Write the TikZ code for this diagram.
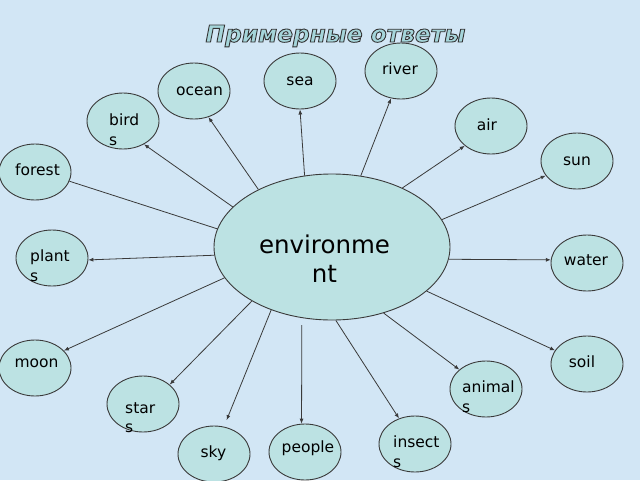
\documentclass[tikz,border=0pt]{standalone}
\usepackage{fontspec}
\setmainfont{DejaVu Sans}
\usetikzlibrary{arrows.meta,shapes.geometric}
\definecolor{bg}{HTML}{D2E6F5}
\definecolor{bubfill}{HTML}{BCE2E3}
\definecolor{edgegray}{HTML}{3A3A3A}
\definecolor{titlefill}{HTML}{A5D5DA}
\newcommand\outlined[1]{\special{pdf:literal direct 2 Tr 0.9 w 0.2 0.2 0.2 RG}#1\special{pdf:literal direct 0 Tr}}
\begin{document}
\begin{tikzpicture}[x=1pt,y=-1pt,
  bubble/.style={ellipse, draw=edgegray, line width=0.9pt, fill=bubfill, minimum width=72pt, minimum height=56pt, inner sep=0pt},
  word/.style={inner sep=0pt, font=\fontsize{15.5}{19}\selectfont, text height=0.547em, text depth=0pt},
  bigword/.style={inner sep=0pt, font=\fontsize{24.5}{29}\selectfont, anchor=base},
  arr/.style={draw=edgegray, line width=0.8pt, -{Latex[length=5pt,width=4pt]}},
  ln/.style={draw=edgegray, line width=0.8pt},
  titletext/.style={inner sep=0pt, anchor=base, font=\bfseries\itshape\fontsize{23.3}{27}\selectfont}]
\useasboundingbox (0,0) rectangle (640,480);
\fill[bg] (0,0) rectangle (640,480);
% title
\node[titletext, text=titlefill] (title) at (335.5,42) {\outlined{Примерные ответы}};
% centre
\node[bubble, minimum width=236pt, minimum height=146pt] (env) at (332,247) {};
\node[bigword] (envA) at (324.5,253) {environme};
\node[bigword] (envB) at (324.5,282) {nt};
% bubbles
\node[bubble] (river) at (401,71) {};
\node[bubble] (sea) at (300,81) {};
\node[bubble] (ocean) at (194,91) {};
\node[bubble] (birds) at (123,121) {};
\node[bubble] (air) at (491,126) {};
\node[bubble] (sun) at (577,161) {};
\node[bubble] (forest) at (35,172) {};
\node[bubble] (plants) at (52,258) {};
\node[bubble] (water) at (587,263) {};
\node[bubble] (moon) at (35,368) {};
\node[bubble] (soil) at (587,364) {};
\node[bubble] (stars) at (143,404) {};
\node[bubble] (animals) at (486,389) {};
\node[bubble] (insects) at (415,444) {};
\node[bubble] (sky) at (214,454) {};
\node[bubble] (people) at (305,452) {};
% texts
\node[word] (riverT) at (400,72) {river};
\node[word] (seaT) at (300,83) {sea};
\node[word] (oceanT) at (199.5,93) {ocean};
\node[word, anchor=west] (birdsT1) at (109,123) {bird};
\node[word, anchor=west] (birdsT2) at (109,143) {s};
\node[word] (airT) at (487,128) {air};
\node[word] (sunT) at (577,163) {sun};
\node[word] (forestT) at (37.5,173) {forest};
\node[word, anchor=west] (plantsT1) at (30,259) {plant};
\node[word, anchor=west] (plantsT2) at (30,279) {s};
\node[word] (waterT) at (586,263) {water};
\node[word] (moonT) at (36.5,365) {moon};
\node[word] (soilT) at (582,365) {soil};
\node[word, anchor=west] (starsT1) at (125,411) {star};
\node[word, anchor=west] (starsT2) at (125,430) {s};
\node[word, anchor=west] (animalsT1) at (462,390) {animal};
\node[word, anchor=west] (animalsT2) at (462,410) {s};
\node[word, anchor=west] (insectsT1) at (393,445) {insect};
\node[word, anchor=west] (insectsT2) at (393,465) {s};
\node[word] (skyT) at (213.5,455) {sky};
\node[word] (peopleT) at (308,450) {people};
% connectors
\draw[arr] (env.142) -- (ocean.-61);
\draw[arr] (env.111.4) -- (sea.-90);
\draw[arr] (env.68.7) -- (river.-110.8);
\draw[arr] (env.40.1) -- (air.-143.8);
\draw[arr] (env.14.6) -- (sun.-155.7);
\draw[arr] (env.-6.2) -- (water.175);
\draw[arr] (env.-25.8) -- (soil.157.2);
\draw[arr] (env.-52.9) -- (animals.144.9);
\draw[arr] (env.-87.6) -- (insects.122.6);
\draw[arr, shorten <=7pt] (env.-113.9) -- (people.97.6);
\draw[arr, shorten >=7pt] (env.-134.1) -- (sky.70.6);
\draw[arr] (env.-146.3) -- (stars.36.9);
\draw[arr] (env.-164.7) -- (moon.31.3);
\draw[arr] (env.-176.5) -- (plants.-3.2);
\draw[arr] (env.158.5) -- (birds.-48.8);
\draw[ln] (forest.-15.5) -- (env.171.4);
\end{tikzpicture}
\end{document}
